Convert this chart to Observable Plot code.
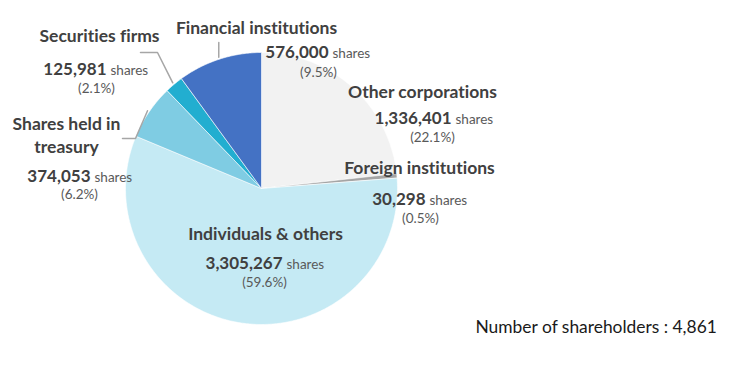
<!DOCTYPE html>
<html><head><meta charset="utf-8">
<script src="https://cdn.jsdelivr.net/npm/d3@7"></script>
<script src="https://cdn.jsdelivr.net/npm/@observablehq/plot@0.6"></script>
<style>body{margin:0;background:#fff} svg text{font-variant-ligatures:none;font-feature-settings:"liga" 0}</style>
</head><body><div id="chart"></div>
<script>
// ---- data ----
const categories = ["Other corporations","Foreign institutions","Individuals & others","Shares held in treasury","Securities firms","Financial institutions"];
const shares = [1336401, 30298, 3305267, 374053, 125981, 576000];
const percents = ["22.1%","0.5%","59.6%","6.2%","2.1%","9.5%"];
const nameLines = [["Other corporations"],["Foreign institutions"],["Individuals & others"],["Shares held in","treasury"],["Securities firms"],["Financial institutions"]];
const colors = ["#f2f2f2","#a5a5a5","#c5eaf4","#7fcce3","#22aed0","#4472c4"];
const shareholders = "4,861";

// ---- layout ----
const W = 756, H = 370;
const cx = 261, cy = 188, R = 136;
const FONT = "Lato, 'Open Sans', sans-serif";
const layout = {
  "Other corporations":      {nx:422, ny:97,  sx:453, sy:123, px:432, py:141},
  "Foreign institutions":    {nx:419, ny:173, sx:427, sy:204, px:420, py:222},
  "Individuals & others":    {nx:265, ny:239, sx:284, sy:268, px:264, py:286},
  "Shares held in treasury": {nx:66,  ny:129, sx:92,  sy:181, px:79,  py:198},
  "Securities firms":        {nx:99,  ny:41,  sx:108, sy:74,  px:96,  py:92},
  "Financial institutions":  {nx:256, ny:33,  sx:330, sy:57,  px:318, py:76}
};
const lineGap = 23;

// pie geometry from data
const arcs = d3.pie().sort(null).value(d => d.v)(categories.map((c, i) => ({c, v: shares[i]})));
const slicePts = [];
for (const a of arcs) {
  slicePts.push({c: a.data.c, x: cx, y: cy});
  const n = Math.max(2, Math.ceil((a.endAngle - a.startAngle) / 0.01));
  for (let k = 0; k <= n; k++) {
    const t = a.startAngle + (a.endAngle - a.startAngle) * k / n;
    slicePts.push({c: a.data.c, x: cx + R * Math.sin(t), y: cy - R * Math.cos(t)});
  }
  slicePts.push({c: a.data.c, x: cx, y: cy});
}

function arcPoint(name, frac, rr) {
  const a = arcs[categories.indexOf(name)];
  const t = a.startAngle + (a.endAngle - a.startAngle) * frac;
  return [cx + rr * Math.sin(t), cy - rr * Math.cos(t)];
}
const leaders = [];
{
  const [x, y] = arcPoint("Financial institutions", 0.5, R + 2);
  leaders.push({g:"fin", x, y}, {g:"fin", x, y: 42});
}
{
  const [x, y] = arcPoint("Securities firms", 0.5, R + 2);
  leaders.push({g:"sec", x, y}, {g:"sec", x: 157, y: 52}, {g:"sec", x: 140, y: 52});
}
{
  const [x, y] = arcPoint("Shares held in treasury", 0.5, R + 2);
  leaders.push({g:"tre", x, y}, {g:"tre", x: 135, y: 138}, {g:"tre", x: 122, y: 138});
}

const names = [], nums = [], units = [], pcts = [];
categories.forEach((c, i) => {
  const L = layout[c];
  nameLines[i].forEach((t, j) => names.push({t, x: L.nx, y: L.ny + j * lineGap}));
  nums.push({t: d3.format(",")(shares[i]), x: L.sx - 2, y: L.sy});
  units.push({t: "shares", x: L.sx + 2, y: L.sy});
  pcts.push({t: "(" + percents[i] + ")", x: L.px, y: L.py});
});

const chart = Plot.plot({
  width: W, height: H,
  margin: 0,
  x: {domain: [0, W], range: [0, W], axis: null},
  y: {domain: [0, H], range: [0, H], axis: null},
  color: {domain: categories, range: colors},
  style: {fontFamily: FONT, background: "#fff"},
  marks: [
    Plot.line(slicePts, {x: "x", y: "y", z: "c", fill: "c", stroke: "#fff", strokeWidth: 0.6, curve: "linear"}),
    Plot.line(leaders, {x: "x", y: "y", z: "g", stroke: "#a6a6a6", strokeWidth: 1.5}),
    Plot.text(names, {x: "x", y: "y", text: "t", lineAnchor: "bottom", textAnchor: "middle", fontWeight: "bold", fontSize: 17.5, fill: "#404040", fontFamily: FONT}),
    Plot.text(nums, {x: "x", y: "y", text: "t", lineAnchor: "bottom", textAnchor: "end", fontWeight: "bold", fontSize: 17, fill: "#404040", fontFamily: FONT}),
    Plot.text(units, {x: "x", y: "y", text: "t", lineAnchor: "bottom", textAnchor: "start", fontSize: 13.5, fill: "#595959", fontFamily: FONT}),
    Plot.text(pcts, {x: "x", y: "y", text: "t", lineAnchor: "bottom", textAnchor: "middle", fontSize: 13.5, fill: "#595959", fontFamily: FONT}),
    Plot.text([{t: "Number of shareholders : " + shareholders}], {x: () => 475, y: () => 332, text: "t", lineAnchor: "bottom", textAnchor: "start", fontSize: 17.4, fill: "#1a1a1a", fontFamily: FONT})
  ]
});
document.getElementById("chart").appendChild(chart);
</script>
</body></html>
